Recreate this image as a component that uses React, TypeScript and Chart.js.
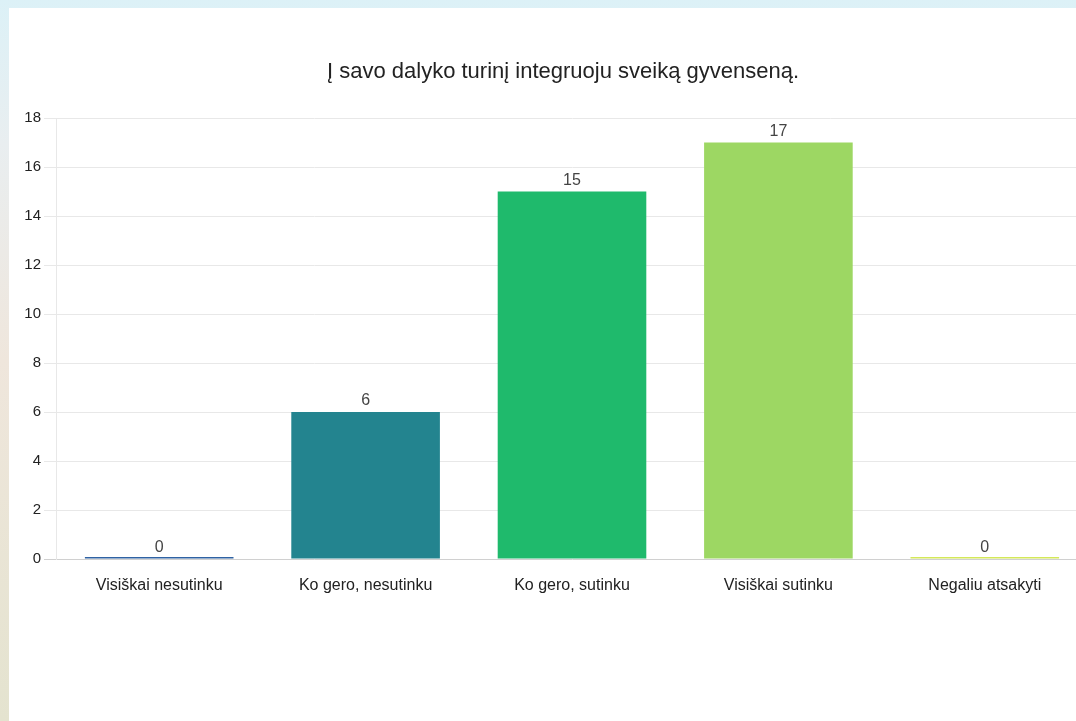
import React, { useEffect, useRef } from "react";
import { Chart, registerables } from "chart.js";

Chart.register(...registerables);

const title = "Į savo dalyko turinį integruoju sveiką gyvenseną.";
const categories = [
  "Visiškai nesutinku",
  "Ko gero, nesutinku",
  "Ko gero, sutinku",
  "Visiškai sutinku",
  "Negaliu atsakyti",
];
const counts = [0, 6, 15, 17, 0];
const barColors = ["#2f62a3", "#23848f", "#1fba6c", "#9dd763", "#d4e85a"];
const yMax = 18;
const yStep = 2;

const FONT = "'Liberation Sans', Arial, sans-serif";

const valueLabels = {
  id: "valueLabels",
  afterDatasetsDraw(chart: any) {
    const ctx = chart.ctx;
    const meta = chart.getDatasetMeta(0);
    ctx.save();
    ctx.font = `16px ${FONT}`;
    ctx.fillStyle = "#444444";
    ctx.textAlign = "center";
    ctx.textBaseline = "alphabetic";
    meta.data.forEach((bar: any, i: number) => {
      const v = chart.data.datasets[0].data[i];
      const y = chart.scales.y.getPixelForValue(v);
      ctx.fillText(String(v), bar.x, y - 7);
    });
    ctx.restore();
  },
};

const titlePlugin = {
  id: "customTitle",
  afterDraw(chart: any) {
    const ctx = chart.ctx;
    ctx.save();
    ctx.font = `22px ${FONT}`;
    ctx.fillStyle = "#222222";
    ctx.textAlign = "center";
    ctx.textBaseline = "middle";
    ctx.fillText(title, 554, 64);
    ctx.restore();
  },
};

export default function App() {
  const ref = useRef<HTMLCanvasElement>(null);
  useEffect(() => {
    document.body.style.margin = "0";
    document.body.style.overflow = "hidden";
    document.body.style.height = "721px";
    document.body.style.background =
      "linear-gradient(to bottom, #dcf1f7 0%, #e9eef0 20%, #efe6dc 50%, #e4e3cf 100%)";
    const chart = new Chart(ref.current!, {
      type: "bar",
      data: {
        labels: categories,
        datasets: [
          {
            data: counts,
            backgroundColor: barColors,
            borderWidth: 0,
            minBarLength: 2,
            barPercentage: 0.72,
            categoryPercentage: 1,
          },
        ],
      },
      options: {
        animation: false,
        responsive: false,
        maintainAspectRatio: false,
        layout: { padding: { top: 110, right: 21, bottom: 0, left: 0 } },
        plugins: {
          legend: { display: false },
          title: { display: false },
          tooltip: { enabled: false },
        },
        scales: {
          x: {
            grid: { display: false },
            border: { display: false },
            ticks: {
              color: "#222222",
              font: { family: FONT, size: 16 },
              padding: 9,
              maxRotation: 0,
            },
            afterFit(scale: any) {
              scale.height = 162;
            },
          },
          y: {
            min: 0,
            max: yMax,
            ticks: {
              stepSize: yStep,
              color: "#222222",
              font: { family: FONT, size: 15 },
              padding: 3,
            },
            grid: {
              color: (c: any) => (c.tick && c.tick.value === 0 ? "#d0d0d0" : "#e8e8e8"),
              lineWidth: 1,
              tickLength: 12,
              drawTicks: true,
            },
            border: { display: true, color: "#e8e8e8" },
            afterFit(scale: any) {
              scale.width = 47;
            },
          },
        },
      },
      plugins: [valueLabels, titlePlugin],
    });
    return () => chart.destroy();
  }, []);
  return (
    <div
      style={{
        position: "absolute",
        left: 9,
        top: 8,
        width: 1067,
        height: 713,
        background: "#ffffff",
        overflow: "hidden",
      }}
    >
      <canvas ref={ref} width={1100} height={713} style={{ display: "block", width: 1100, height: 713 }} />
    </div>
  );
}
